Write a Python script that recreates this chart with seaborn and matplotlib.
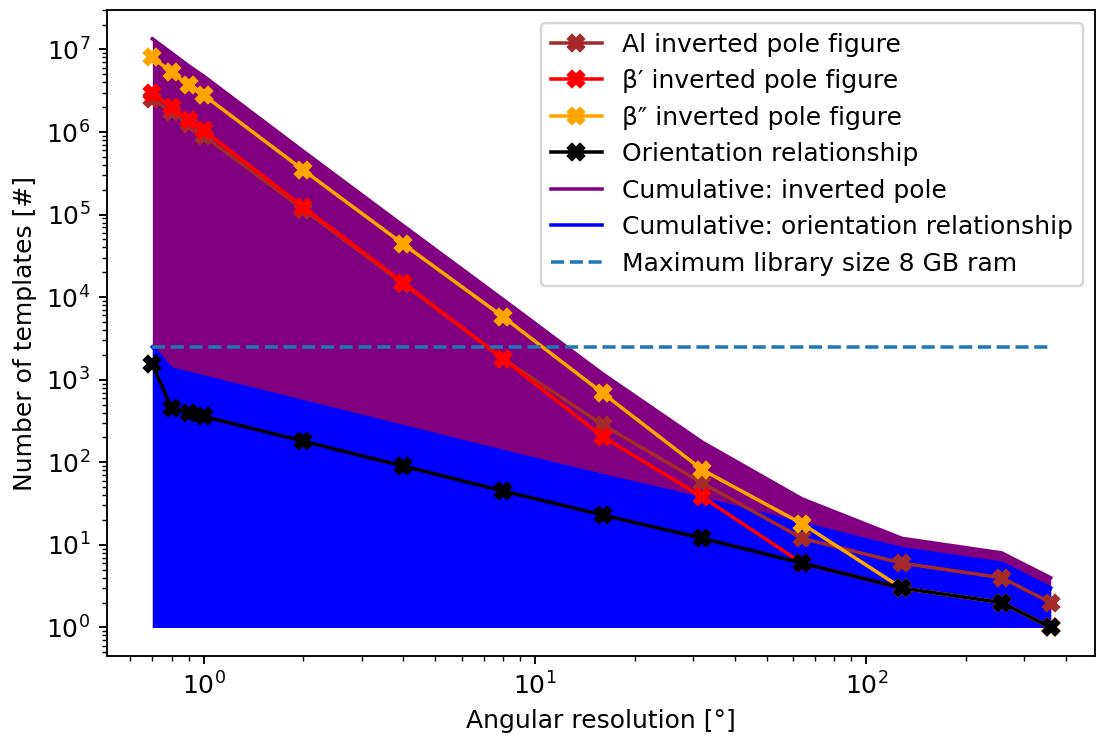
import numpy as np
import matplotlib
matplotlib.use("Agg")
import matplotlib.pyplot as plt
import seaborn as sns

plt.rcParams.update({"font.size": 10.6})

# angular resolution [deg]
resolution = [0.7, 0.8, 0.9, 1, 2, 4, 8, 16, 32, 64, 128, 256, 360]

# number of templates per library
al_ipf = [2.5e6, 1.75e6, 1.25e6, 9.0e5, 1.15e5, 1.45e4, 1.8e3, 285, 56, 12, 6, 4, 2]
beta_p_ipf = [2.95e6, 2.0e6, 1.4e6, 1.05e6, 1.23e5, 1.5e4, 1.8e3, 204, 38, 6, 3, 2, 1]
beta_pp_ipf = [8.0e6, 5.3e6, 3.7e6, 2.8e6, 3.45e5, 4.4e4, 5.8e3, 690, 81, 18, 3, 2, 1]
orientation_rel = [1540, 450, 400, 360, 180, 90, 45, 23, 12, 6, 3, 2, 1]

# cumulative totals
cum_ipf = [1.345e7, 9.05e6, 6.35e6, 4.75e6, 5.83e5, 7.35e4, 9.4e3, 1179, 175, 36, 12, 8, 4]
cum_or = [2500, 1350, 1200, 1080, 540, 270, 135, 69, 36, 18, 9, 6, 3]

max_library = 2500

DPI = 170
fig, ax = plt.subplots(figsize=(1101 / DPI, 738 / DPI), dpi=DPI)
fig.subplots_adjust(left=0.097, right=0.9946, top=0.9864, bottom=0.111)

# cumulative areas
ax.fill_between(resolution, 1, cum_ipf, color="purple", lw=0, zorder=1)
ax.fill_between(resolution, 1, cum_or, color="blue", lw=0, zorder=2)
h_cipf, = ax.plot(resolution, cum_ipf, color="purple", zorder=1.5,
                  label="Cumulative: inverted pole")
h_cor, = ax.plot(resolution, cum_or, color="blue", zorder=2.5,
                 label="Cumulative: orientation relationship")

series = [
    (al_ipf, "brown", "Al inverted pole figure"),
    (beta_p_ipf, "red", "\u03b2\u2032 inverted pole figure"),
    (beta_pp_ipf, "orange", "\u03b2\u2033 inverted pole figure"),
    (orientation_rel, "black", "Orientation relationship"),
]
for vals, col, lab in series:
    sns.lineplot(x=resolution, y=vals, color=col, marker="X", markersize=7,
                 markeredgecolor=col, markeredgewidth=1, label=lab,
                 ax=ax, zorder=5)

sns.lineplot(x=resolution, y=[max_library] * len(resolution), color="#1f77b4",
             linestyle="--", label="Maximum library size 8 GB ram", ax=ax, zorder=6)

ax.set_xscale("log")
ax.set_yscale("log")
ax.set_xlim(0.51, 490)
ax.set_ylim(0.45, 3.0e7)
ax.set_xlabel("Angular resolution [\u00b0]")
ax.set_ylabel("Number of templates [#]")

handles, labels = ax.get_legend_handles_labels()
order = ["Al inverted pole figure", "\u03b2\u2032 inverted pole figure",
         "\u03b2\u2033 inverted pole figure", "Orientation relationship",
         "Cumulative: inverted pole", "Cumulative: orientation relationship",
         "Maximum library size 8 GB ram"]
hmap = dict(zip(labels, handles))
ax.legend([hmap[k] for k in order], order, loc="upper right")

fig.savefig("out.png", dpi=DPI)
